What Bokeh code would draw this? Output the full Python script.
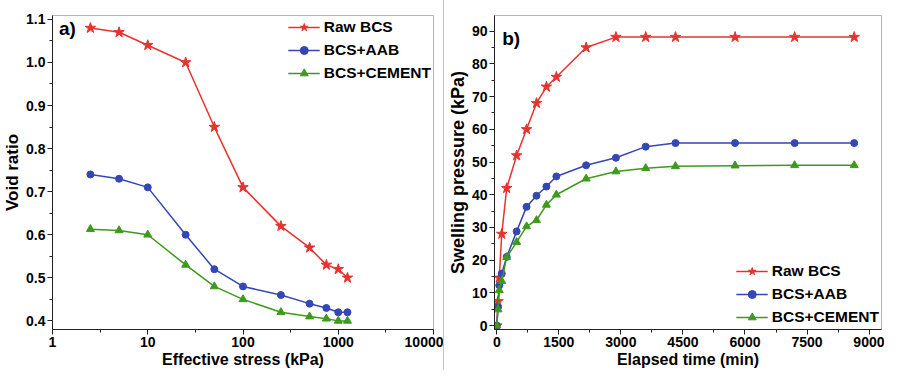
from bokeh.plotting import figure
from bokeh.layouts import row
from bokeh.models import FixedTicker, Label, Legend, Spacer, NumeralTickFormatter
from bokeh.embed import file_html
from bokeh.resources import INLINE

# ---- panel a) consolidation data ----
stress = [2.5, 5, 10, 25, 50, 100, 250, 500, 750, 1000, 1250]
void_raw = [1.08, 1.07, 1.04, 1.00, 0.85, 0.71, 0.62, 0.57, 0.53, 0.52, 0.50]
void_aab = [0.74, 0.73, 0.71, 0.60, 0.52, 0.48, 0.46, 0.44, 0.43, 0.42, 0.42]
void_cem = [0.613, 0.610, 0.600, 0.530, 0.480, 0.450, 0.420, 0.410, 0.405, 0.400, 0.400]

# ---- panel b) swelling pressure data ----
time_min = [0, 30, 60, 120, 240, 480, 720, 960, 1200, 1440, 2160, 2880, 3600, 4320, 5760, 7200, 8640]
swell_raw = [0, 7.4, 14.6, 28, 42, 52, 60, 68, 73, 76, 85, 88.2, 88.2, 88.2, 88.2, 88.2, 88.2]
swell_aab = [0, 5.6, 12.3, 15.9, 21, 28.8, 36.3, 39.7, 42.5, 45.6, 49, 51.3, 54.7, 55.8, 55.8, 55.8, 55.8]
swell_cem = [0, 4.9, 10.8, 13.6, 20.9, 25.5, 30.3, 32.2, 36.9, 40, 44.9, 47.1, 48.1, 48.7, 48.9, 49, 49]

series_names = ["Raw BCS", "BCS+AAB", "BCS+CEMENT"]

x1_ticks = [1, 10, 100, 1000, 10000]
x1_labels = ["1", "10", "100", "1000", "10000"]
x1_minor = [3.1623, 31.623, 316.23, 3162.3]
y1_ticks = [0.4, 0.5, 0.6, 0.7, 0.8, 0.9, 1.0, 1.1]
y1_minor = [0.35, 0.45, 0.55, 0.65, 0.75, 0.85, 0.95, 1.05]
x2_ticks = [0, 1500, 3000, 4500, 6000, 7500, 9000]
x2_minor = [750, 2250, 3750, 5250, 6750, 8250]
y2_ticks = [0, 10, 20, 30, 40, 50, 60, 70, 80, 90]
y2_minor = [5, 15, 25, 35, 45, 55, 65, 75, 85]

RED = "#e5332f"
BLUE = "#3447b4"
GREEN = "#3e9a1c"
FONT = "Liberation Sans"


def style(p, xt, xm, yt, ym, xlab, ylab, ylab_size):
    p.xgrid.visible = False
    p.ygrid.visible = False
    p.outline_line_color = "#b4b4b4"
    p.outline_line_width = 1
    p.background_fill_color = "white"
    p.xaxis.ticker = FixedTicker(ticks=xt, minor_ticks=xm)
    p.yaxis.ticker = FixedTicker(ticks=yt, minor_ticks=ym)
    for ax in (p.xaxis[0], p.yaxis[0]):
        ax.axis_line_color = "#222222"
        ax.axis_line_width = 1
        ax.major_tick_line_color = "#222222"
        ax.minor_tick_line_color = "#222222"
        ax.major_tick_out = 5
        ax.major_tick_in = 0
        ax.minor_tick_out = 3
        ax.minor_tick_in = 0
        ax.major_label_text_font = FONT
        ax.major_label_text_font_style = "bold"
        ax.major_label_text_font_size = "14px"
        ax.major_label_text_color = "black"
        ax.axis_label_text_font = FONT
        ax.axis_label_text_font_style = "bold"
        ax.axis_label_text_color = "black"
    p.xaxis.major_label_standoff = 2
    p.yaxis.major_label_standoff = 2
    p.xaxis.axis_label = xlab
    p.yaxis.axis_label = ylab
    p.xaxis.axis_label_text_font_size = "16px"
    p.yaxis.axis_label_text_font_size = ylab_size
    p.xaxis.axis_label_standoff = 1
    p.yaxis.axis_label_standoff = 1


def add_series(p, x, ys):
    items = []
    specs = [(RED, "star", 11), (BLUE, "circle", 7), (GREEN, "triangle", 8)]
    for (col, mk, sz), y, name in zip(specs, ys, series_names):
        l = p.line(x, y, line_color=col, line_width=1.5)
        s = p.scatter(x, y, marker=mk, size=sz, fill_color=col, line_color=col)
        items.append((name, [l, s]))
    return items


def add_legend(p, items, loc):
    leg = Legend(items=items, location=loc)
    leg.label_text_font = FONT
    leg.label_text_font_style = "bold"
    leg.label_text_font_size = "15.5px"
    leg.label_text_color = "black"
    leg.glyph_width = 32
    leg.glyph_height = 20
    leg.label_height = 20
    leg.label_standoff = 4
    leg.spacing = 3
    leg.padding = 2
    leg.margin = 0
    leg.border_line_alpha = 0
    leg.background_fill_alpha = 0
    p.add_layout(leg, "center")


# ---- figure a ----
p1 = figure(width=443, height=370, x_axis_type="log", x_range=(1, 10000),
            y_range=(0.380, 1.109), output_backend="svg", toolbar_location=None,
            min_border_left=42, min_border_right=10, min_border_top=4, min_border_bottom=40)
style(p1, x1_ticks, x1_minor, y1_ticks, y1_minor, "Effective stress (kPa)", "Void ratio", "17px")
p1.xaxis.major_label_overrides = {t: s for t, s in zip(x1_ticks, x1_labels)}
p1.yaxis.formatter = NumeralTickFormatter(format="0.0")
items1 = add_series(p1, stress, [void_raw, void_aab, void_cem])
add_legend(p1, items1, "top_right")
p1.add_layout(Label(x=1.17, y=1.078, text="a)", text_font=FONT, text_font_style="bold",
                    text_font_size="19px", text_baseline="middle", text_color="black"))

# ---- figure b ----
p2 = figure(width=440, height=370, x_range=(-55, 9300), y_range=(-1.2, 94.8),
            output_backend="svg", toolbar_location=None,
            min_border_left=45, min_border_right=3, min_border_top=15, min_border_bottom=40)
style(p2, x2_ticks, x2_minor, y2_ticks, y2_minor, "Elapsed time (min)", "Swelling pressure (kPa)", "18px")
items2 = add_series(p2, time_min, [swell_raw, swell_aab, swell_cem])
add_legend(p2, items2, "bottom_right")
p2.add_layout(Label(x=130, y=87.9, text="b)", text_font=FONT, text_font_style="bold",
                    text_font_size="19px", text_baseline="middle", text_color="black"))

divider = Spacer(width=1, height=370, styles={"background-color": "#c4c4c4"})

layout = row(p1, divider, p2)
open("out.html", "w").write(file_html(layout, INLINE))
